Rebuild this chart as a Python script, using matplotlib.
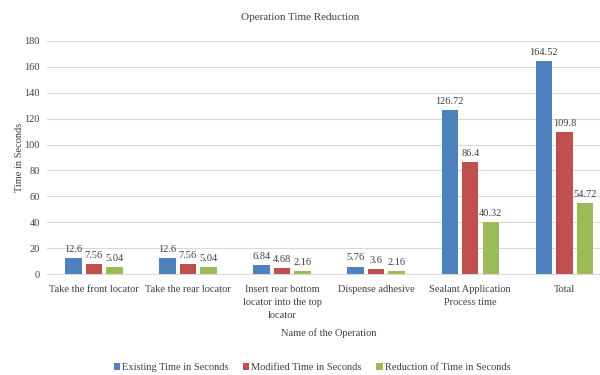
import numpy as np
import matplotlib
matplotlib.use('Agg')
import matplotlib.pyplot as plt

operations = ['Take the front locator', 'Take the rear locator',
              'Insert rear bottom\nlocator into the top\nlocator',
              'Dispense adhesive', 'Sealant Application\nProcess time', 'Total']
existing = [12.6, 12.6, 6.84, 5.76, 126.72, 164.52]
modified = [7.56, 7.56, 4.68, 3.6, 86.4, 109.8]
reduction = [5.04, 5.04, 2.16, 2.16, 40.32, 54.72]
series_names = ['Existing Time in Seconds', 'Modified Time in Seconds',
                'Reduction of Time in Seconds']
yticks = [0, 20, 40, 60, 80, 100, 120, 140, 160, 180]

plt.rcParams['font.family'] = ['Liberation Serif', 'DejaVu Serif']
fs = 7.5
text_col = '#404040'

fig = plt.figure(figsize=(6, 3.75), dpi=100)
ax = fig.add_axes([0.078, 0.2693, 0.941, 0.6214])

x = np.arange(len(operations))
w = 0.175
off = 0.218
colors = ['#4F81BD', '#C0504D', '#9BBB59']
for i, (vals, name) in enumerate(zip([existing, modified, reduction], series_names)):
    bars = ax.bar(x + (i - 1) * off, vals, w, color=colors[i], label=name, zorder=3)
    for b, v in zip(bars, vals):
        ax.annotate(f'{v:g}', (b.get_x() + b.get_width() / 2, v),
                    xytext=(0, 3), textcoords='offset points',
                    ha='center', va='bottom', fontsize=fs, color=text_col)

ax.set_xlim(-0.5, len(operations) - 0.5)
ax.set_ylim(0, 180)
ax.set_yticks(yticks)
ax.yaxis.grid(True, color='#D9D9D9', linewidth=0.8, zorder=0)
ax.set_xticks(x)
ax.set_xticklabels(operations, fontsize=fs, color=text_col, linespacing=1.55)
ax.tick_params(axis='y', labelsize=fs, labelcolor=text_col, length=0, pad=5)
ax.tick_params(axis='x', length=0, pad=8)
for s in ['top', 'right', 'left']:
    ax.spines[s].set_visible(False)
ax.spines['bottom'].set_color('#D9D9D9')

ax.set_ylabel('Time in Seconds', fontsize=fs, color=text_col, labelpad=0)
ax.set_xlabel('Name of the Operation', fontsize=fs, color=text_col, labelpad=6)
fig.text(0.5, 0.953, 'Operation Time Reduction', ha='center', va='center',
         fontsize=8, color=text_col)

fig.legend(loc='center', bbox_to_anchor=(0.52, 0.02), ncol=3, frameon=False,
           fontsize=fs, handlelength=0.6, handleheight=0.6, handletextpad=0.2,
           columnspacing=1.4, labelcolor=text_col)

fig.savefig('out.png', dpi=100)
